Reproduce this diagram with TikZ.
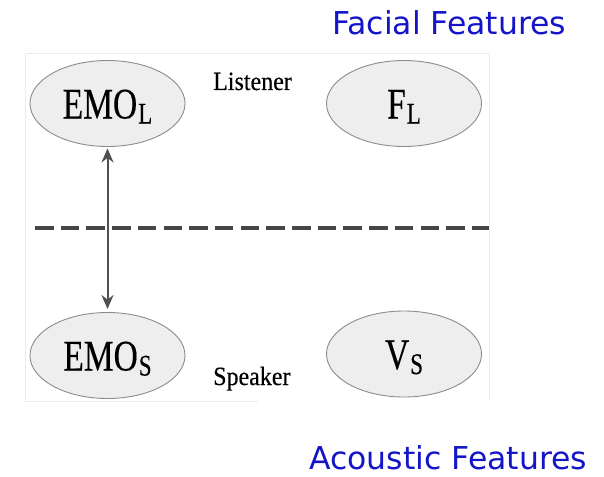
\documentclass[tikz,border=0pt]{standalone}
\usepackage{fontspec}
\setmainfont{Liberation Serif}
\newfontfamily\ellfont[FakeBold=0.4]{Liberation Serif}
\newfontfamily\dejavu{DejaVu Sans}
\usetikzlibrary{shapes.geometric,arrows.meta}
\definecolor{featblue}{RGB}{20,20,200}
\definecolor{ellfill}{RGB}{238,238,238}
\definecolor{ellline}{RGB}{140,140,140}
\definecolor{arrgray}{RGB}{80,80,80}
\definecolor{dashgray}{RGB}{70,70,70}
\newcommand{\ellabel}[2]{\scalebox{1}[1.3]{\ellfont\fontsize{33.5}{33.5}\selectfont #1}\kern1pt\raisebox{-5pt}{\scalebox{1}[1.3]{\ellfont\fontsize{23}{23}\selectfont #2}}}
\tikzset{
  state/.style={ellipse, draw=ellline, line width=0.9pt, fill=ellfill, inner sep=0pt,
    minimum width=155pt, minimum height=86pt, text height=30pt, text depth=0pt},
  role/.style={anchor=base west, inner sep=0pt, font=\ellfont\fontsize{24}{24}\selectfont},
  feat/.style={anchor=base west, inner sep=0pt, text depth=0pt, text=featblue, font=\dejavu\fontsize{31.5}{31.5}\selectfont},
  link/.style={arrgray, line width=2pt, {Stealth[length=14pt,width=12pt]}-{Stealth[length=14pt,width=12pt]}},
  divider/.style={dashgray, line width=4pt, dash pattern=on 18.5pt off 7.2pt},
  frame/.style={black!8, line width=0.8pt}
}
\begin{document}
\begin{tikzpicture}[x=1pt,y=-1pt]
\useasboundingbox (0,0) rectangle (604,476);
% faint frame of embedded figure
\draw[frame] (25,401) -- (25,53) -- (489,53) -- (489,401);
\draw[frame] (25,401) -- (258,401);
% nodes
\node[state] (emol) at (107.5,103.5) {\ellabel{EMO}{L}};
\node[state] (fl) at (404,103.5) {\ellabel{F}{L}};
\node[state] (emos) at (107.5,355.5) {\ellabel{EMO}{S}};
\node[state] (vs) at (404,354) {\ellabel{V}{S}};
% labels
\node[role] (listener) at (213,90) {\scalebox{1}[1.1]{Listener}};
\node[role] (speaker) at (213,385) {\scalebox{1}[1.1]{Speaker}};
\node[feat] (facial) at (332,35) {Facial Features};
\node[feat] (acoustic) at (309,469.5) {Acoustic Features};
% divider
\coordinate (dl) at (35,228);
\coordinate (dr) at (489,228);
\draw[divider] (dl) -- (dr);
% link
\draw[link] ([yshift=-1.5pt]emol.south) -- ([yshift=3pt]emos.north);
\end{tikzpicture}
\end{document}
